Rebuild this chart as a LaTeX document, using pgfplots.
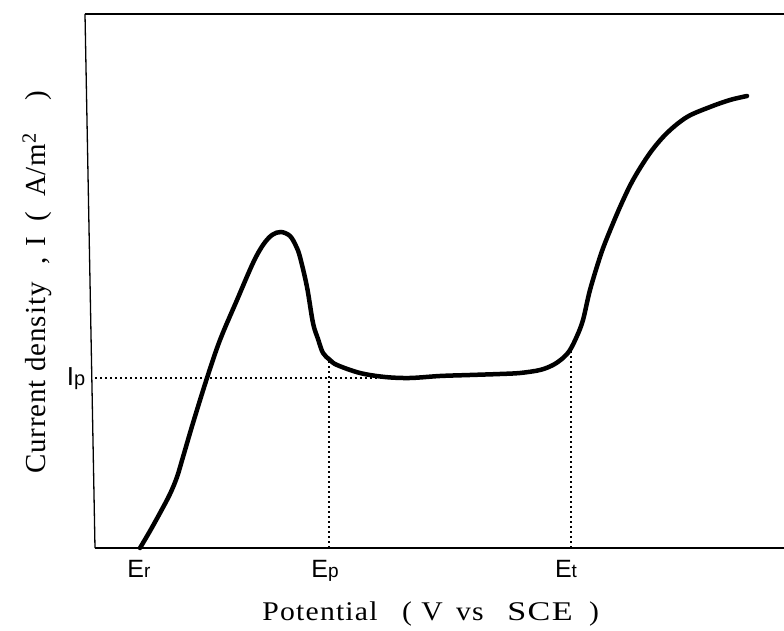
\documentclass[border=0pt]{standalone}
\usepackage{fontspec}
\setmainfont{Liberation Serif}
\newfontfamily\lsans{Liberation Sans}
\usepackage{graphicx}
\usepackage{pgfplots}
\pgfplotsset{compat=1.18}
\newcommand{\xl}[1]{\scalebox{1.1}[1]{\fontsize{27}{30}\selectfont\addfontfeature{LetterSpace=4}#1}}
\newcommand{\yl}[1]{\fontsize{29}{32}\selectfont\addfontfeature{LetterSpace=3}#1}
\begin{document}
\begin{tikzpicture}[x=1pt,y=1pt]
\useasboundingbox (0,0) rectangle (784,631);
\begin{axis}[at={(90pt,83pt)}, anchor=south west, scale only axis,
  width=694pt, height=534pt, xmin=90, xmax=784, ymin=83, ymax=617,
  axis lines=none, clip=false]
\addplot[black, line width=4.5pt, smooth, tension=0.55, line cap=round] coordinates {
(140,83) (150,100) (160,118) (170,137) (177,154) (183,174) (193,208) (207,253)
(220,291) (237,331) (253,368) (263,386) (272,396) (281,399) (290,395) (296,385)
(300,374) (307,344) (313,308) (318,292) (323,278) (330,271) (337,266) (360,258)
(385,254) (410,253) (440,255) (470,256) (500,257) (520,258) (540,261) (553,266)
(563,273) (570,281) (577,295) (583,311) (590,341) (600,374) (607,393) (620,424)
(633,451) (650,478) (667,498) (687,514) (710,524) (730,531) (747,535)
};
% frame
\draw[line width=2.8pt] (axis cs:85,617) -- (axis cs:784,617);
\draw[line width=1.3pt] (axis cs:85,617) -- (axis cs:95,83);
\draw[line width=1.8pt] (axis cs:95,83) -- (axis cs:784,83);
% dotted guides
\draw[line width=1.2pt, dash pattern=on 1.5pt off 3.5pt] (axis cs:95,253) -- (axis cs:395,253);
\draw[line width=1.2pt, dash pattern=on 1.5pt off 3.5pt] (axis cs:329,83) -- (axis cs:329,272);
\draw[line width=1.2pt, dash pattern=on 1.5pt off 3.5pt] (axis cs:571,83) -- (axis cs:571,281);
% tick-like labels
\node[anchor=base, inner sep=0pt] at (axis cs:139,53) {\lsans\fontsize{25}{25}\selectfont E{\fontsize{19}{19}\selectfont r}};
\node[anchor=base, inner sep=0pt] at (axis cs:325,53) {\lsans\fontsize{25}{25}\selectfont E{\fontsize{19}{19}\selectfont p}};
\node[anchor=base, inner sep=0pt] at (axis cs:566,53) {\lsans\fontsize{25}{25}\selectfont E{\fontsize{19}{19}\selectfont t}};
\node[anchor=base, inner sep=0pt] at (axis cs:76,245) {\lsans\fontsize{26}{26}\selectfont I{\fontsize{20}{20}\selectfont p}};
% x label
\node[anchor=base, inner sep=0pt] at (axis cs:320,10) {\xl{Potential}};
\node[anchor=base, inner sep=0pt] at (axis cs:407,10) {\xl{(}};
\node[anchor=base, inner sep=0pt] at (axis cs:432,10) {\xl{V}};
\node[anchor=base, inner sep=0pt] at (axis cs:470,10) {\xl{vs}};
\node[anchor=base, inner sep=0pt] at (axis cs:540,10) {\scalebox{1.15}[1]{\xl{SCE}}};
\node[anchor=base, inner sep=0pt] at (axis cs:594,10) {\xl{)}};
% y label
\node[rotate=90, anchor=base, inner sep=0pt] at (axis cs:45,204) {\yl{Current}};
\node[rotate=90, anchor=base, inner sep=0pt] at (axis cs:45,304) {\yl{density}};
\node[rotate=90, anchor=base, inner sep=0pt] at (axis cs:45,370) {\yl{,}};
\node[rotate=90, anchor=base, inner sep=0pt] at (axis cs:45,389) {\yl{I}};
\node[rotate=90, anchor=base, inner sep=0pt] at (axis cs:45,414) {\yl{(}};
\node[rotate=90, anchor=base, inner sep=0pt] at (axis cs:45,466) {\yl{A/m\textsuperscript{2}}};
\node[rotate=90, anchor=base, inner sep=0pt] at (axis cs:45,535) {\yl{)}};
\end{axis}
\end{tikzpicture}
\end{document}
